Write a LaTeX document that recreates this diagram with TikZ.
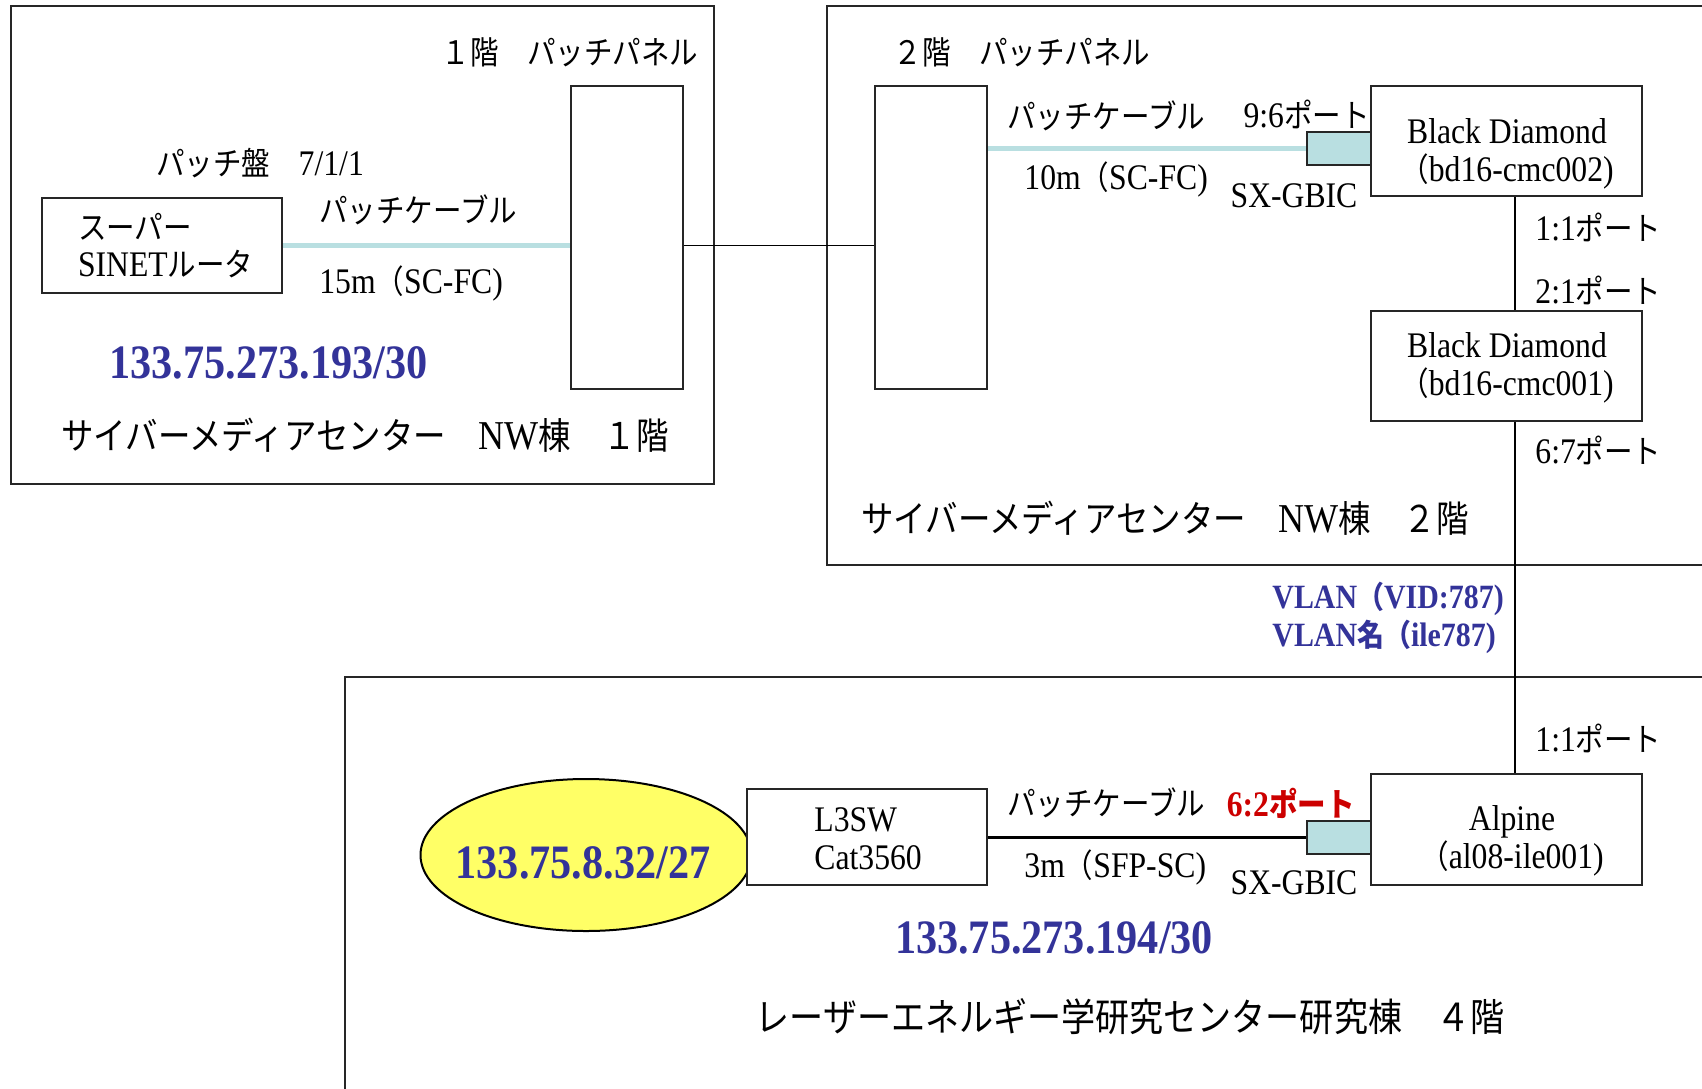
\documentclass[tikz,border=0pt]{standalone}
\usepackage{fontspec}
\setmainfont{Liberation Serif}[FakeStretch=0.88]
\newfontfamily\jp{Noto Sans CJK JP}[FakeStretch=0.88,Scale=0.9]
\newcommand\jpp{{\jp （}}
\usetikzlibrary{shapes.geometric}
\definecolor{ipblue}{RGB}{51,51,153}
\definecolor{portred}{RGB}{204,0,0}
\definecolor{fibre}{RGB}{185,223,225}
\definecolor{netyellow}{RGB}{255,255,102}

\begin{document}
\begin{tikzpicture}[x=0.5pt,y=-0.5pt,
   room/.style={draw=black!85,line width=1pt},
   box/.style={draw=black!85,line width=1pt,fill=white,inner sep=0pt},
   panel/.style={box,minimum width=56pt,minimum height=151.5pt},
   dev/.style={box,minimum width=135.5pt,minimum height=55pt},
   gbic/.style={box,fill=fibre,minimum width=32pt,minimum height=16.5pt},
   cable/.style={fibre,line width=2.75pt},
   wire/.style={black,line width=0.75pt},
   lbl/.style={inner sep=0pt,font=\fontsize{18}{19}\selectfont},
   ip/.style={inner sep=0pt,text=ipblue,font=\fontsize{24}{26}\selectfont\bfseries},
   floor/.style={inner sep=0pt,font=\fontsize{20.5}{24}\selectfont}]
   \useasboundingbox (0,0) rectangle (1702,1088);
   \clip (0,0) rectangle (1702,1088);
   % rooms
   \draw[room] (11,5.5) rectangle (714,484);
   \draw[room] (827,5.5) rectangle (1720,564.5);
   \draw[room] (345,677) rectangle (1720,1100);
   % 1F
   \node[box,align=left,text width=84pt,inner xsep=18pt,minimum height=47.5pt,
      font=\fontsize{18}{18.5}\selectfont] (router) at (162,245.5) {{\jp スーパー}\\SINET{\jp ルータ}};
   \node[panel] (pp_1) at (627,237.5) {};
   \node[lbl] (pp_1t) at (570,52) {{\jp １階　パッチパネル}};
   \node[lbl] (jack) at (260,163) {{\jp パッチ盤　}7/1/1};
   \node[lbl,anchor=west] (c_1t) at (319,209.5) {{\jp パッチケーブル}};
   \node[lbl,anchor=west] (c_1l) at (319,283) {15m\jpp SC-FC)};
   \node[ip] (ip_1) at (268.5,362.5) {133.75.273.193/30};
   \node[floor] (fl_1) at (365,435) {{\jp サイバーメディアセンター　}NW{\jp 棟　１階}};
   % 2F
   \node[panel] (pp_2) at (931,237.5) {};
   \node[lbl] (pp_2t) at (1022,52) {{\jp ２階　パッチパネル}};
   \node[dev] (bd_2) at (1506.5,141) {};
   \node[lbl,align=center] (bd_2t) at (1507,154) {Black Diamond\\\jpp bd16-cmc002)};
   \node[dev] (bd_1) at (1506.5,365.5) {};
   \node[lbl,align=center] (bd_1t) at (1507,368) {Black Diamond\\\jpp bd16-cmc001)};
   \node[gbic] (gb_1) at (1339,148.5) {};
   \node[lbl,anchor=west] (c_2t) at (1007,116) {{\jp パッチケーブル}};
   \node[lbl,anchor=west] (c_2l) at (1024,179) {10m\jpp SC-FC)};
   \node[lbl,anchor=east] (p_96) at (1370,114) {9:6{\jp ポート}};
   \node[lbl] (sx_1) at (1294,195.5) {SX-GBIC};
   \node[lbl,anchor=west] (p_11) at (1535,227) {1:1{\jp ポート}};
   \node[lbl,anchor=west] (p_21) at (1535,290) {2:1{\jp ポート}};
   \node[lbl,anchor=west] (p_67) at (1535,450.5) {6:7{\jp ポート}};
   \node[floor] (fl_2) at (1165,518) {{\jp サイバーメディアセンター　}NW{\jp 棟　２階}};
   \node[lbl,align=left,anchor=west,text=ipblue,font=\fontsize{17}{19}\selectfont\bfseries]
      (vlan) at (1272,618) {VLAN\jpp VID:787)\\VLAN{\jp 名}\jpp ile787)};
   % 4F
   \node[ellipse,draw=black,line width=1pt,fill=netyellow,minimum width=165.5pt,
      minimum height=76pt,inner sep=0pt] (net) at (586,855) {};
   \node[ip] (net_t) at (583,863) {133.75.8.32/27};
   \node[box,minimum width=120pt,minimum height=48pt] (l3sw) at (867,837) {};
   \node[lbl,align=left,anchor=west] (l3swt) at (814,839) {L3SW\\Cat3560};
   \node[gbic] (gb_2) at (1339,837) {};
   \node[box,minimum width=135.5pt,minimum height=55.5pt] (alp) at (1506.5,829.5) {};
   \node[lbl,align=center] (alpt) at (1512,841) {Alpine\\\jpp al08-ile001)};
   \node[lbl,anchor=west] (p_11b) at (1535,738) {1:1{\jp ポート}};
   \node[lbl,anchor=west] (c_3t) at (1007,803) {{\jp パッチケーブル}};
   \node[lbl,anchor=east,text=portred,font=\fontsize{18}{19}\selectfont\bfseries] (p_62) at (1355,803) {6:2{\jp ポート}};
   \node[lbl,anchor=west] (c_3l) at (1024,867) {3m\jpp SFP-SC)};
   \node[lbl] (sx_2) at (1294,882.5) {SX-GBIC};
   \node[ip] (ip_3) at (1054,938) {133.75.273.194/30};
   \node[floor,font=\fontsize{21.5}{24}\selectfont] (fl_4) at (1130,1017) {{\jp レーザーエネルギー学研究センター研究棟　４階}};
   % links
   \coordinate (riser) at (1515,0);
   \draw[cable] (router.east) -- (router.east -| pp_1.west);
   \draw[wire] (router.east -| pp_1.east) -- (router.east -| pp_2.west);
   \draw[cable] (gb_1.west -| pp_2.east) -- (gb_1.west);
   \draw[wire,line width=1.5pt] (l3sw.east) -- (gb_2.west);
   \draw[wire] (bd_2.south -| riser) -- (bd_1.north -| riser);
   \draw[wire] (bd_1.south -| riser) -- (alp.north -| riser);
\end{tikzpicture}
\end{document}
